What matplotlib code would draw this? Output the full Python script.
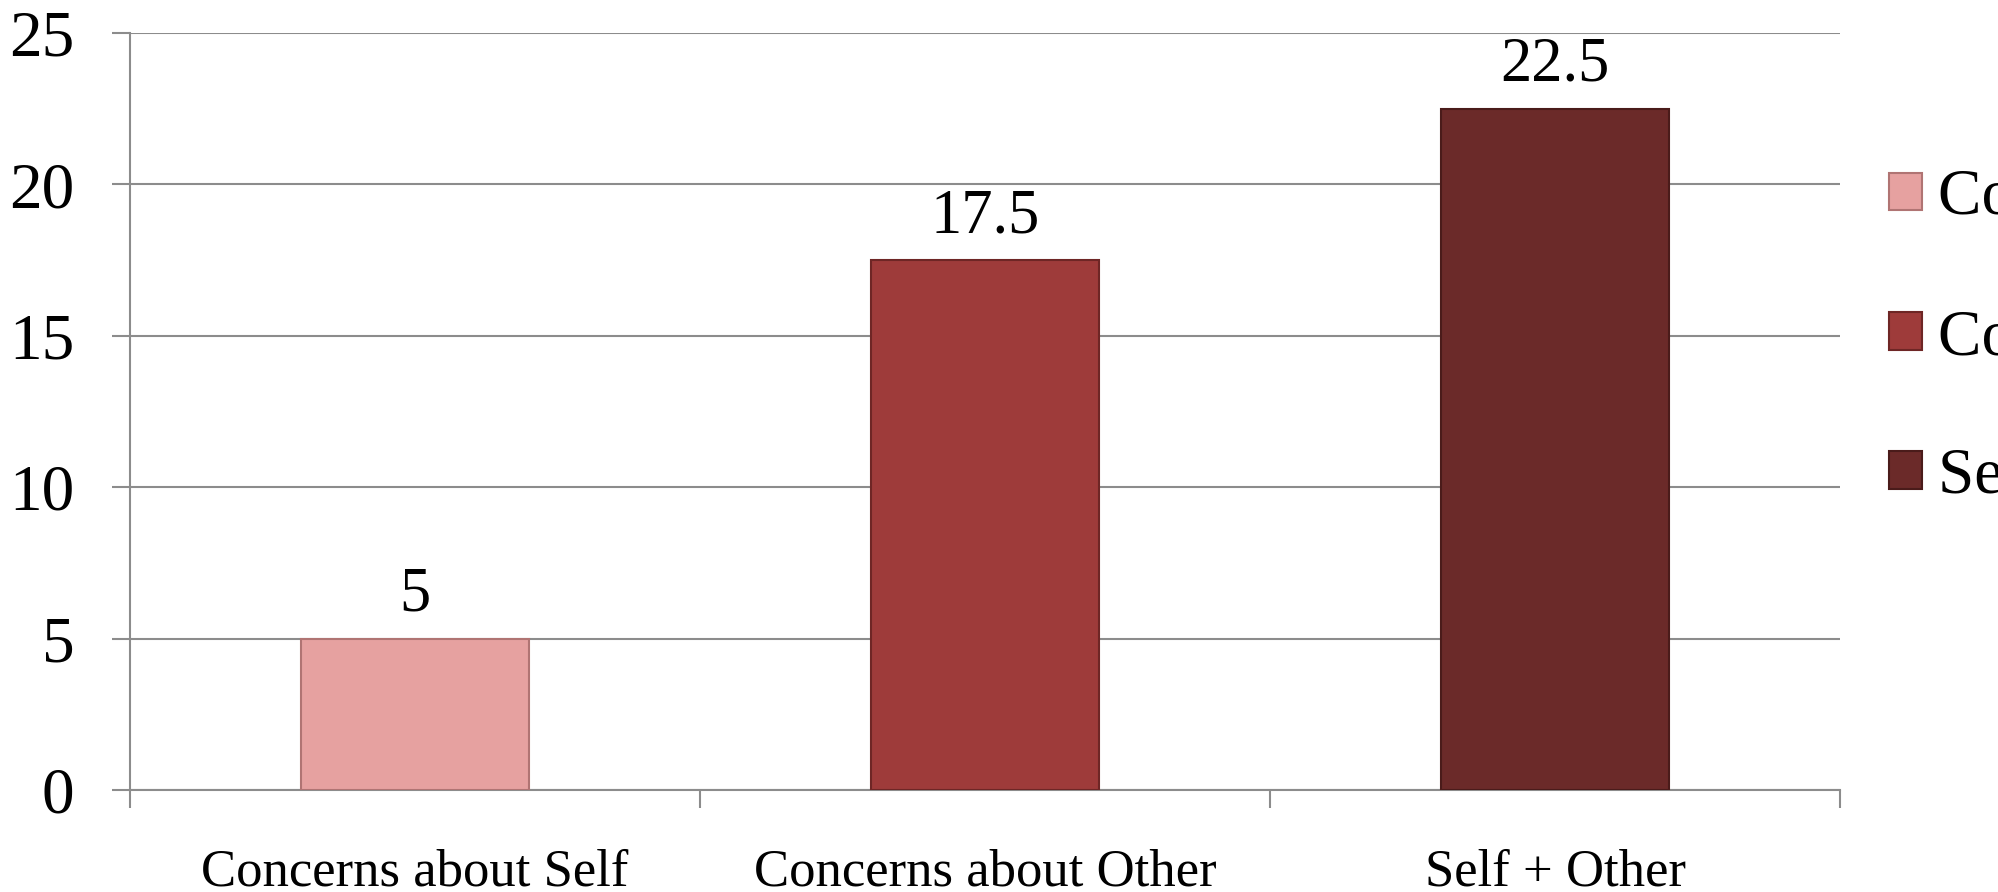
import matplotlib
matplotlib.use('Agg')
import matplotlib.pyplot as plt
from matplotlib.patches import Patch

categories = ['Concerns about Self', 'Concerns about Other', 'Self + Other']
values = [5, 17.5, 22.5]
value_labels = ['5', '17.5', '22.5']
colors = ['#E6A1A0', '#9E3B3A', '#6B2A29']
edges = ['#B07473', '#6E2625', '#4A1B1A']
yticks = [0, 5, 10, 15, 20, 25]

plt.rcParams['font.family'] = ['Liberation Serif', 'DejaVu Serif']
FS_TICK = 47
FS_VAL = 45
FS_CAT = 38
FS_LEG = 47
GRID = '#8C8C8C'

fig = plt.figure(figsize=(19.99, 8.92), dpi=100)
ax = fig.add_axes([0.065, 0.1143, 0.8555, 0.8487])

x = list(range(len(categories)))
bars = ax.bar(x, values, width=0.4, color=colors, edgecolor=edges, linewidth=1.5, zorder=3)
for b, lab in zip(bars, value_labels):
    ax.annotate(lab, (b.get_x() + b.get_width() / 2, b.get_height()),
                xytext=(0, 10), textcoords='offset points',
                ha='center', va='bottom', fontsize=FS_VAL)

ax.set_xlim(-0.5, 2.5)
ax.set_ylim(0, 25)
ax.set_yticks(yticks)
ax.set_yticklabels([str(t) for t in yticks], fontsize=FS_TICK)
ax.set_xticks(x)
ax.set_xticklabels(categories, fontsize=FS_CAT)
ax.set_xticks([-0.5, 0.5, 1.5, 2.5], minor=True)
ax.tick_params(axis='x', which='major', length=0, pad=42)
ax.tick_params(axis='x', which='minor', length=13, width=1.5, color=GRID, direction='out')
ax.tick_params(axis='y', length=13, width=1.5, color=GRID, pad=27)
ax.yaxis.grid(True, color=GRID, linewidth=1.5, zorder=0)
ax.set_axisbelow(True)
for s in ['top', 'right']:
    ax.spines[s].set_visible(False)
for s in ['left', 'bottom']:
    ax.spines[s].set_color(GRID)
    ax.spines[s].set_linewidth(1.5)

# legend sits at the right edge and is cut off by the figure, as in the original
handles = [Patch(facecolor=c, edgecolor=e, linewidth=1.5) for c, e in zip(colors, edges)]
fig.legend(handles, categories, loc='upper left', bbox_to_anchor=(0.945, 0.81),
           frameon=False, fontsize=FS_LEG, handlelength=0.5, handleheight=0.5,
           handletextpad=0.25, labelspacing=1.22, borderpad=0, borderaxespad=0)

fig.savefig('out.png', dpi=100)
